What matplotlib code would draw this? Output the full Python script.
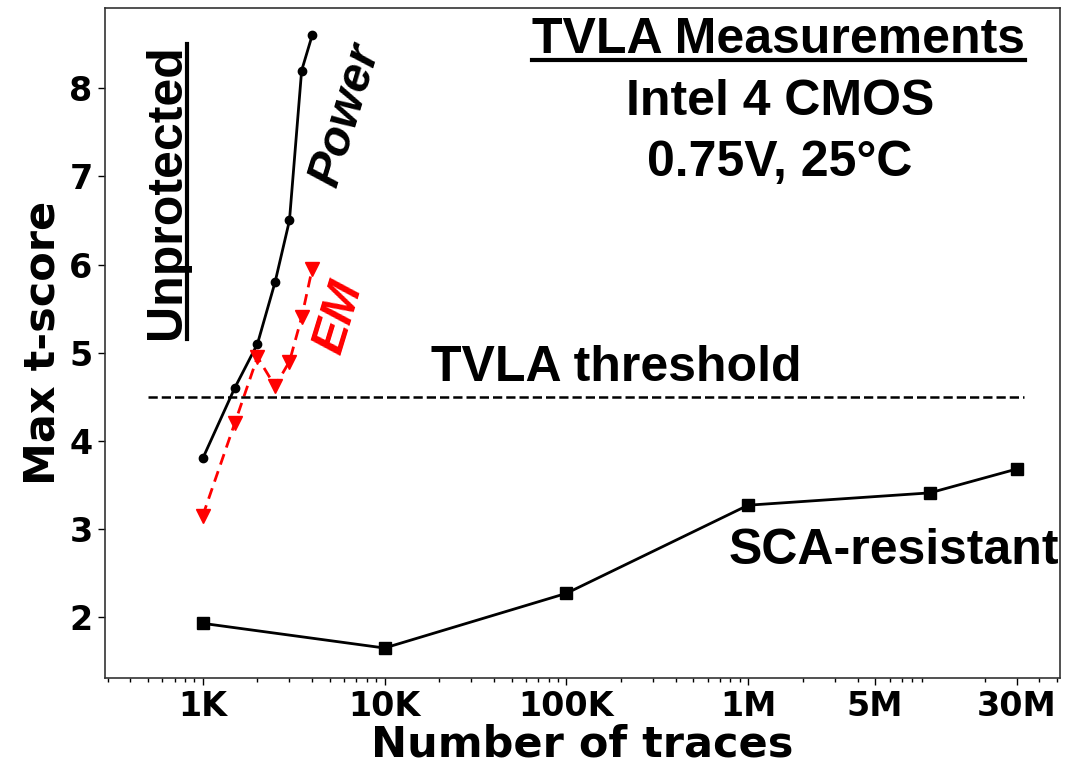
import matplotlib
matplotlib.use("Agg")
import matplotlib.pyplot as plt
from matplotlib.lines import Line2D
from matplotlib.ticker import LogLocator, NullFormatter, FixedLocator, FixedFormatter

# Data
power_x = [1000, 1500, 2000, 2500, 3000, 3500, 4000]
power_y = [3.8, 4.6, 5.1, 5.8, 6.5, 8.2, 8.6]
em_x = [1000, 1500, 2000, 2500, 3000, 3500, 4000]
em_y = [3.15, 4.2, 4.95, 4.62, 4.9, 5.4, 5.95]
sca_x = [1e3, 1e4, 1e5, 1e6, 1e7, 3e7]
sca_y = [1.93, 1.65, 2.27, 3.27, 3.41, 3.68]
threshold = 4.5
thr_range = [500, 3.3e7]
xtick_vals = [1e3, 1e4, 1e5, 1e6, 5e6, 3e7]
xtick_labels = ["1K", "10K", "100K", "1M", "5M", "30M"]
ytick_vals = [2, 3, 4, 5, 6, 7, 8]

W, H = 1068, 771
fig = plt.figure(figsize=(W/100, H/100), dpi=100)
ax = fig.add_axes([105/W, 1-678/H, 955/W, 670/H])

ax.set_xscale('log')
ax.plot(power_x, power_y, '-o', color='black', lw=2, ms=6)
ax.plot(em_x, em_y, '--v', color='red', lw=2, ms=10, dashes=(4, 2.5))
ax.plot(sca_x, sca_y, '-s', color='black', lw=2, ms=9)
ax.hlines(threshold, thr_range[0], thr_range[1], colors='black', linestyles='--', lw=1.8)

ax.set_xlim(290, 5.2e7)
ax.set_ylim(1.31, 8.91)

ax.xaxis.set_major_locator(FixedLocator(xtick_vals))
ax.xaxis.set_major_formatter(FixedFormatter(xtick_labels))
ax.xaxis.set_minor_locator(LogLocator(base=10, subs=range(2, 10), numticks=20))
ax.xaxis.set_minor_formatter(NullFormatter())
ax.set_yticks(ytick_vals)

for lab in ax.get_xticklabels() + ax.get_yticklabels():
    lab.set_fontweight('bold')
    lab.set_fontsize(24)
    lab.set_family('DejaVu Sans')
ax.tick_params(axis='both', which='major', length=5, width=1, pad=4)
ax.tick_params(axis='x', which='minor', length=3, width=1)

ax.set_xlabel("Number of traces", fontsize=31, fontweight='bold', labelpad=0)
ax.set_ylabel("Max t-score", fontsize=31, fontweight='bold', labelpad=4)

for s in ax.spines.values():
    s.set_linewidth(1.2)
    s.set_color('#333333')

af = 'Liberation Sans'
t_title = ax.text(0.705, 0.952, "TVLA Measurements", transform=ax.transAxes,
                  ha='center', va='center', fontsize=36, fontweight='bold', family=af)
ax.text(0.707, 0.859, "Intel 4 CMOS", transform=ax.transAxes, ha='center', va='center',
        fontsize=36, fontweight='bold', family=af)
ax.text(0.707, 0.769, "0.75V, 25°C", transform=ax.transAxes, ha='center', va='center',
        fontsize=36, fontweight='bold', family=af)
ax.text(0.535, 0.463, "TVLA threshold", transform=ax.transAxes, ha='center', va='center',
        fontsize=36, fontweight='bold', family=af)
ax.text(0.826, 0.190, "SCA-resistant", transform=ax.transAxes, ha='center', va='center',
        fontsize=36, fontweight='bold', family=af)
t_unp = ax.text(0.065, 0.726, "Unprotected", transform=ax.transAxes,
                ha='center', va='center', fontsize=36, rotation=90, fontweight='bold', family=af)
ax.text(0.252, 0.840, "Power", transform=ax.transAxes, ha='center', va='center',
        fontsize=35, fontweight='bold', style='italic', family=af, rotation=73,
        rotation_mode='anchor')
ax.text(0.245, 0.538, "EM", transform=ax.transAxes, ha='center', va='center',
        fontsize=35, fontweight='bold', style='italic', family=af, rotation=73,
        color='red', rotation_mode='anchor')

# underlines
fig.canvas.draw()
r = fig.canvas.get_renderer()
bb = t_title.get_window_extent(r)
yline = bb.y0 + 3
fig.add_artist(Line2D([bb.x0/W, bb.x1/W], [yline/H, yline/H], transform=fig.transFigure,
                      color='black', lw=3))
bb = t_unp.get_window_extent(r)
xline = bb.x1 - 3
fig.add_artist(Line2D([xline/W, xline/W], [bb.y0/H, bb.y1/H], transform=fig.transFigure,
                      color='black', lw=3))

fig.savefig("out.png", dpi=100)
